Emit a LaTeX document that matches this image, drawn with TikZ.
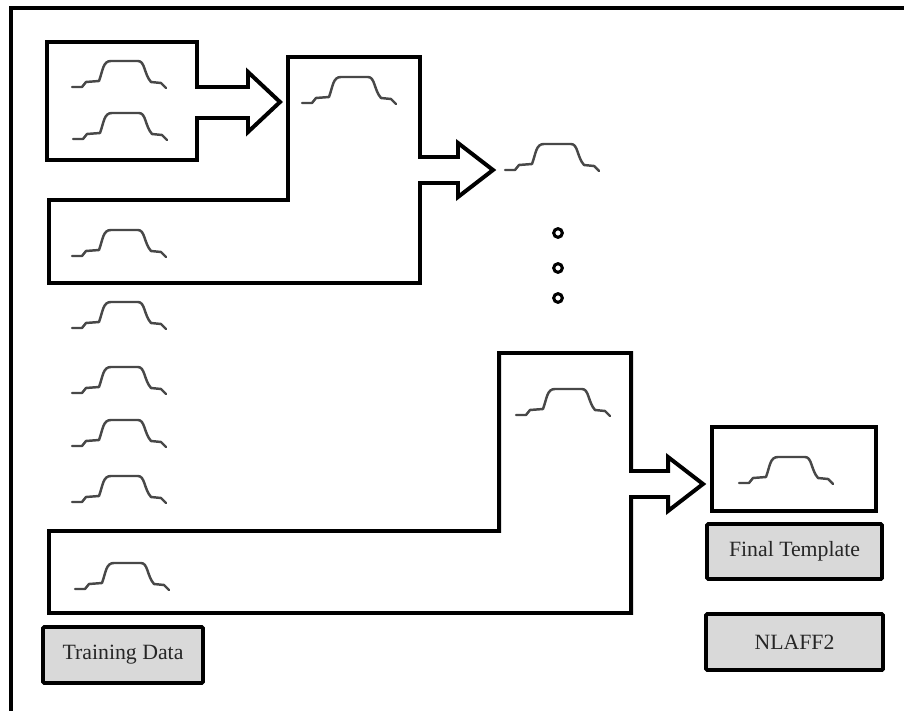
\documentclass[tikz,border=0pt]{standalone}
\usepackage{fontspec}
\setmainfont{Liberation Serif}
\usetikzlibrary{positioning}
\definecolor{labelgray}{HTML}{D9D9D9}
\definecolor{wavegray}{HTML}{484848}

\begin{document}
\begin{tikzpicture}[
      x=0.03cm, y=-0.03cm,
      block/.style={draw, line width=3.4pt},
      label/.style={rectangle, draw, line width=3.2pt, fill=labelgray, rounded corners=1pt, text=black!85, font=\fontsize{18.6}{20}\selectfont, inner sep=0pt},
      result/.style={rectangle, draw, line width=3.2pt, inner sep=0pt, minimum width=4.92cm, minimum height=2.52cm},
      dot/.style={circle, draw, line width=2.6pt, inner sep=0pt, minimum size=0.26cm},
      wave/.pic={
        \draw[wavegray, line width=2.1pt, line cap=round, line join=round]
          (0,0) -- (10,0) -- (14,-5) -- (27,-6)
          .. controls (31,-17) and (31,-26) .. (39,-26) -- (66,-26)
          .. controls (73,-26) and (72,-13) .. (79,-5) -- (89,-4) -- (94,1);
      }
    ]
      \useasboundingbox (0,0) rectangle (904,711);
      \draw[line width=2.8pt] (11,711) |- (904,8);

      % first merge
      \draw[block] (47,42) -- (197,42) -- (197,87) -- (248,87) -- (248,72) -- (280,102)
        -- (248,132) -- (248,118) -- (197,118) -- (197,160) -- (47,160) -- cycle;
      \pic (w1) at (72,87) {wave};
      \pic (w2) at (73,139) {wave};

      % second merge
      \draw[block] (288,57) -- (420,57) -- (420,157) -- (458,157) -- (458,143) -- (493,170)
        -- (458,197) -- (458,183) -- (420,183) -- (420,283) -- (49,283) -- (49,200) -- (288,200) -- cycle;
      \pic (w3) at (302,103) {wave};
      \pic (w5) at (72,256) {wave};
      \pic (w4) at (505,170) {wave};

      \node[dot] (d1) at (558,233) {};
      \node[dot] (d2) at (558,268) {};
      \node[dot] (d3) at (558,298) {};

      % remaining training data
      \foreach \y [count=\i] in {328,393,446,502}
        \pic (c\i) at (72,\y) {wave};

      % last merge
      \draw[block] (499,353) -- (631,353) -- (631,471) -- (668,471) -- (668,457) -- (703,484)
        -- (668,511) -- (668,497) -- (631,497) -- (631,613) -- (49,613) -- (49,531) -- (499,531) -- cycle;
      \pic (w6) at (516,415) {wave};
      \pic (w7) at (75,589) {wave};

      \node[result] (final) at (794,469) {};
      \pic (w8) at (739,483) {wave};

      \node[label, minimum width=5.25cm, minimum height=1.65cm] (template) at (794.5,551.5) {Final Template};
      \node[label, minimum width=5.31cm, minimum height=1.68cm] (method) at (794.5,642) {NLAFF2};
      \node[label, minimum width=4.8cm, minimum height=1.68cm] (training) at (123,655) {Training Data};
    \end{tikzpicture}
\end{document}
